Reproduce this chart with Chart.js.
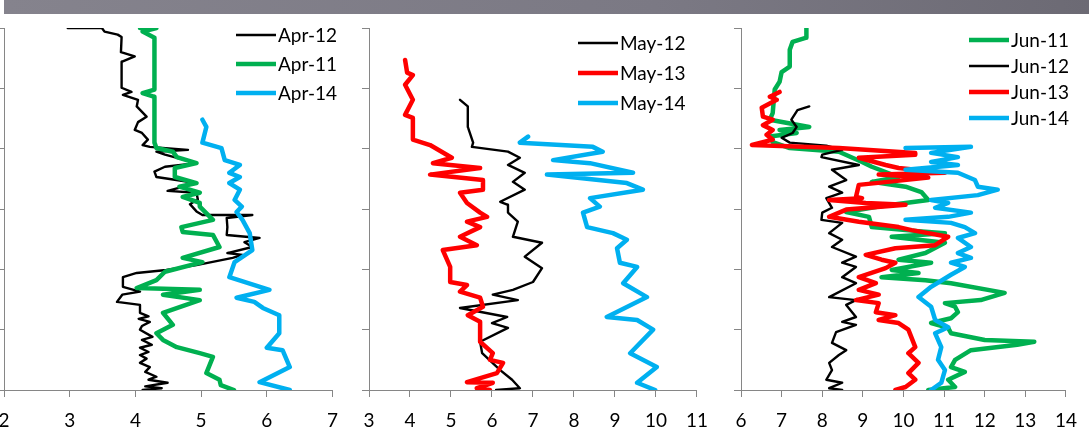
<!DOCTYPE html>
<html>
<head>
<meta charset="utf-8">
<script src="https://cdn.jsdelivr.net/npm/chart.js@4.4.0/dist/chart.umd.min.js"></script>
<style>
  html, body { margin: 0; padding: 0; background: #fff; }
  body { width: 1089px; height: 434px; position: relative; overflow: hidden; }
  #band { position: absolute; left: 4px; top: 0; width: 1085px; height: 14px;
          background: linear-gradient(to right, #85838d, #7b7984 60%, #6c6a74); }
  canvas { position: absolute; top: 14px; }
</style>
</head>
<body>
<div id="band"></div>
<canvas id="c1" width="370" height="420" style="left:-20px"></canvas>
<canvas id="c2" width="370" height="420" style="left:350px"></canvas>
<canvas id="c3" width="369" height="420" style="left:720px"></canvas>
<script>
// [value, height] pairs, height 0 = bottom of axis
const apr12 = [[2.97,60],[3.49,60],[3.53,59.4],[3.73,58.9],[3.79,58.5],[3.78,56],[3.99,55.3],[3.79,54.4],[3.79,50.1],[3.94,49.4],[3.81,48.9],[4.04,48.1],[4.02,47],[4.17,45.3],[4.04,44.4],[3.99,43.1],[4.1,42.6],[4.19,41.5],[4.11,40.6],[4.22,40.3],[4.8,39.8],[4.32,39.5],[4.45,39],[4.93,37.6],[4.45,37],[4.29,36.2],[4.32,35.3],[4.93,34.3],[4.49,33],[4.93,32.7],[4.95,31.6],[4.83,30.8],[4.93,29.6],[5.02,29],[5.78,29],[5.39,28.5],[5.4,27],[5.39,25.7],[5.89,25.2],[5.66,24.5],[5.78,23.7],[5.4,22.7],[5.63,22.4],[5.48,21.9],[4.93,20.7],[4.47,19.9],[4.02,19.4],[3.81,18.7],[3.81,17.1],[4.07,16.3],[3.8,15.8],[3.72,14.6],[4.07,14.1],[4.07,12.8],[4.2,12.2],[4.05,11.8],[4.22,11.3],[4.1,10.6],[4.07,10],[4.26,8.8],[4.1,8.3],[4.25,7.5],[4.07,7],[4.2,6.3],[4.07,5.8],[4.17,5.2],[4.07,4.5],[4.22,3.8],[4.15,3],[4.32,2.2],[4.2,1.7],[4.49,1.2],[4.15,0.6],[4.4,0.3],[4.11,0]];
const apr11 = [[4.07,60],[4.32,60],[4.11,59.4],[4.29,58.4],[4.29,49.8],[4.11,49.2],[4.29,48.6],[4.29,41],[4.32,40.1],[4.57,39.5],[4.63,38.6],[4.93,37.6],[4.6,36.8],[4.6,35.3],[4.93,34.3],[4.67,33.7],[4.98,32.7],[4.72,32],[4.98,31],[4.98,30.4],[5.18,28.2],[4.7,27],[4.72,26.2],[5.18,25.7],[5.28,23.7],[4.72,21.9],[5.02,21.2],[4.45,19.6],[4.32,18.2],[4.02,16.9],[4.98,16.6],[4.42,15.8],[4.98,14.9],[4.42,12.8],[4.57,10.8],[4.32,9.4],[4.42,8.3],[4.63,7.1],[4.98,6.1],[5.18,5.5],[5.08,2.8],[5.28,1.7],[5.3,0.8],[5.5,0]];
const apr14 = [[5.02,44.8],[5.08,43.6],[5.02,41],[5.31,40.1],[5.36,38.1],[5.59,37.3],[5.43,36],[5.59,35.3],[5.43,34.3],[5.59,33.2],[5.51,31.5],[5.62,30.4],[5.54,29.5],[5.63,28.2],[5.74,26],[5.78,23.2],[5.51,21.2],[5.43,18.7],[6.04,16.6],[5.54,15.3],[5.81,14.6],[5.94,13.6],[6.19,12.4],[6.19,9.4],[6.0,7],[6.24,6.6],[6.35,3.8],[5.89,1.3],[6.35,0]];

const may12 = [[5.22,48.1],[5.41,47],[5.41,43.6],[5.54,41],[5.51,40.3],[6.39,39.5],[6.68,38.5],[6.39,37.3],[6.8,36],[6.51,34.5],[6.8,33.2],[6.2,31.2],[6.39,30.7],[6.39,29.4],[6.63,27.9],[6.51,25.4],[7.22,24.4],[6.8,22.1],[7.22,20.2],[7.0,17.9],[6.51,16.6],[6.02,15.8],[6.63,14.9],[5.22,13.6],[6.37,12.1],[6.0,11.1],[6.39,10.3],[5.71,8],[5.76,6.1],[6.2,3.3],[6.49,1.7],[6.68,0.3],[6.1,0]];
const may13 = [[3.88,54.7],[3.93,52.6],[4.07,52.2],[3.88,50.6],[4.07,48.1],[3.88,45.6],[4.07,45.1],[4.07,41.5],[4.49,40.6],[5.02,38.5],[4.56,37.6],[5.71,36.8],[4.49,35.7],[5.78,34.8],[5.78,33.2],[5.22,32.7],[5.39,31],[5.71,29.4],[5.88,28.7],[5.39,27.9],[5.71,27],[5.22,25.4],[5.63,24],[4.8,23.2],[4.98,20.4],[4.98,17.9],[5.39,17.4],[5.22,16.3],[5.71,15.3],[5.78,13.8],[5.41,12.4],[5.71,11.3],[5.71,8],[6.02,6.1],[5.95,5],[6.27,4.5],[6.12,2.8],[5.39,1.3],[6.02,1.2],[5.63,0.3],[5.95,0]];
const may14 = [[6.88,42],[6.68,41],[8.46,40.3],[8.7,39.5],[7.49,38.1],[8.39,37.6],[9.44,36],[7.34,35.7],[9.29,34.3],[9.68,33.2],[8.39,31.8],[8.63,30.4],[8.22,29.4],[8.32,27],[8.95,26],[9.29,24.9],[9.05,23.5],[9.12,21.1],[9.54,20.4],[9.2,17.7],[9.78,15.4],[8.8,12.1],[9.54,11.6],[9.93,10],[9.37,6.1],[10.02,3.8],[9.54,1.2],[9.98,0]];

const jun11 = [[7.61,60],[7.61,58.4],[7.27,57.7],[7.2,56.4],[7.2,53.6],[7.0,52.7],[6.95,51.1],[6.83,49.8],[6.78,45.9],[6.71,44.8],[7.68,43.6],[6.95,43.1],[7.37,42.6],[6.71,42],[6.78,41.1],[7.2,40.1],[8.41,39.5],[8.98,37.8],[9.22,37],[9.88,35.3],[9.22,34.5],[10.05,33.7],[10.44,32.8],[10.61,31.5],[10.05,31],[9.39,30.4],[8.59,29.5],[9.15,28.7],[9.22,27],[10.05,26.5],[11.02,26],[9.71,25.4],[11.02,24.4],[10.54,22.7],[9.88,21.6],[10.68,21.1],[9.71,19.9],[10.37,19.4],[9.46,18.7],[10.54,18.2],[11.17,17.7],[12.49,16.1],[11.9,14.9],[11.02,14.4],[11.27,13.8],[11.34,12.9],[11.17,11.9],[10.68,11.1],[11.1,10.3],[11.17,9.4],[12.0,8.3],[13.22,8],[12.8,7.5],[11.66,6.6],[11.27,5],[11.17,3.8],[11.51,3],[11.1,1.7],[11.27,0.5],[10.61,0]];
const jun12 = [[7.68,47],[7.39,46.4],[7.24,44.8],[7.37,43.6],[7.27,42.6],[7.0,41.8],[7.2,41],[8.1,40.5],[8.49,39.8],[8.0,39],[7.98,38.6],[8.9,37.3],[8.24,36.5],[8.59,34.8],[8.17,33.7],[8.49,32.7],[8.1,31.8],[8.24,30.2],[8.0,29.4],[7.98,28.2],[8.49,27.7],[8.17,26],[8.49,24.9],[8.24,23.7],[8.83,22.1],[8.49,21.1],[8.83,20.4],[8.49,18.7],[8.83,17.7],[8.17,15.4],[8.83,14.9],[8.59,14.1],[8.83,12.1],[8.49,11.3],[8.83,10.8],[8.34,9.6],[8.24,7.8],[8.59,6.6],[8.41,5.8],[8.17,4.5],[8.24,3.3],[8.1,1.7],[8.49,1.2],[8.17,0.3],[8.49,0]];
const jun13 = [[6.95,49.4],[6.71,48.6],[6.88,48.1],[6.51,46.8],[6.54,45.3],[6.78,44.8],[6.54,43.9],[6.78,43.1],[6.63,42.3],[6.78,41.5],[6.27,40.6],[8.41,40.1],[10.29,39.3],[10.29,39],[8.9,38.5],[9.56,37.3],[9.88,36.8],[11.02,36],[9.39,35.7],[10.61,35.2],[8.9,34],[8.83,32],[8.98,31.8],[8.17,31.5],[9.07,31],[10.05,30.7],[8.59,29.9],[8.17,28.7],[8.9,27.9],[9.88,27],[10.2,26.5],[11.1,25.4],[10.78,24],[9.8,23.5],[9.07,22.4],[9.46,21.6],[9.8,21.1],[9.56,20.2],[8.9,18.7],[9.32,17.7],[8.9,16.6],[9.39,15.8],[8.83,14.9],[9.39,14.4],[9.32,12.9],[9.8,12.4],[9.39,11.6],[9.88,11.1],[10.12,10],[10.29,7.1],[10.12,6.1],[10.37,4.5],[10.12,2.8],[10.29,1.7],[10.05,0.5],[9.8,0]];
const jun14 = [[10.05,40.1],[11.66,40.3],[10.68,39.3],[11.34,38.6],[10.68,37.8],[11.34,37.3],[10.05,36.5],[11.34,36],[11.76,34.8],[11.83,33.7],[12.32,33.2],[11.83,32.3],[10.68,31.5],[11.1,31],[10.78,30.2],[11.66,29.4],[11.1,28.7],[10.05,28.2],[11.17,27.7],[11.51,27],[11.76,26],[11.34,25.2],[11.66,23.7],[11.34,22.7],[11.66,21.9],[11.17,21.1],[11.51,20.4],[11.17,19.1],[10.68,17.1],[10.37,15.4],[10.68,13.8],[10.78,11.6],[11.1,10.4],[10.78,9.4],[10.93,7.1],[10.85,5],[11.02,3.3],[10.93,1.2],[10.68,0]];

const aprLabels = ["Apr-12", "Apr-11", "Apr-14"];
const mayLabels = ["May-12", "May-13", "May-14"];
const junLabels = ["Jun-11", "Jun-12", "Jun-13", "Jun-14"];

const BLACK = "#000000", GREEN = "#00b050", BLUE = "#00b0f0", RED = "#ff0000";
const AXIS = "#868686";

Chart.defaults.font.family = "Lato, 'DejaVu Sans', sans-serif";

// excel-like legend that sits inside the plot, lines + labels
const lineLegend = {
  id: "lineLegend",
  afterDraw(chart, args, opts) {
    const ctx = chart.ctx;
    ctx.save();
    ctx.font = "19px Lato";
    ctx.textBaseline = "middle";
    ctx.fillStyle = "#000";
    chart.data.datasets.forEach((ds, i) => {
      const y = opts.top + i * opts.gap;
      ctx.beginPath();
      ctx.lineWidth = ds.borderWidth;
      ctx.strokeStyle = ds.borderColor;
      ctx.moveTo(opts.left, y);
      ctx.lineTo(opts.left + 40, y);
      ctx.stroke();
      ctx.fillText(ds.label, opts.left + 42, y + 1);
    });
    ctx.restore();
  },
};

function makePanel(id, series, labels, colors, xMin, xMax, pad, legend) {
  const n = series.length;
  const datasets = series.map((s, i) => ({
    label: labels[i],
    data: s.map(([x, y]) => ({ x, y })),
    showLine: true,
    borderColor: colors[i],
    backgroundColor: colors[i],
    borderWidth: colors[i] === BLACK ? 2.4 : 4.5,
    pointRadius: 0,
    tension: 0,
    borderJoinStyle: "round",
    borderCapStyle: "round",
    order: n - i,
  }));

  return new Chart(document.getElementById(id), {
    type: "scatter",
    data: { datasets },
    options: {
      responsive: false,
      animation: false,
      layout: { padding: pad },
      plugins: {
        legend: { display: false },
        tooltip: { enabled: false },
        lineLegend: legend,
      },
      scales: {
        x: {
          type: "linear",
          min: xMin,
          max: xMax,
          ticks: { stepSize: 1, color: "#000", font: { size: 19 }, padding: 12 },
          grid: { drawOnChartArea: false, tickLength: 7, color: AXIS },
          border: { color: AXIS },
          afterFit: (s) => { s.height = 44; },
        },
        y: {
          type: "linear",
          min: 0,
          max: 60,
          ticks: { display: false, stepSize: 10 },
          grid: { drawOnChartArea: false, tickLength: 7, color: AXIS },
          border: { color: AXIS },
          afterFit: (s) => { s.width = 7; },
        },
      },
    },
    plugins: [lineLegend],
  });
}

makePanel("c1", [apr12, apr11, apr14], aprLabels, [BLACK, GREEN, BLUE], 2, 7,
  { left: 17, right: 17, top: 14, bottom: 0 }, { left: 256, top: 21, gap: 29 });
makePanel("c2", [may12, may13, may14], mayLabels, [BLACK, RED, BLUE], 3, 11,
  { left: 12, right: 23, top: 14, bottom: 0 }, { left: 228, top: 29, gap: 30 });
makePanel("c3", [jun11, jun12, jun13, jun14], junLabels, [GREEN, BLACK, RED, BLUE], 6, 14,
  { left: 14, right: 21, top: 14, bottom: 0 }, { left: 249, top: 26, gap: 26 });
</script>
</body>
</html>
